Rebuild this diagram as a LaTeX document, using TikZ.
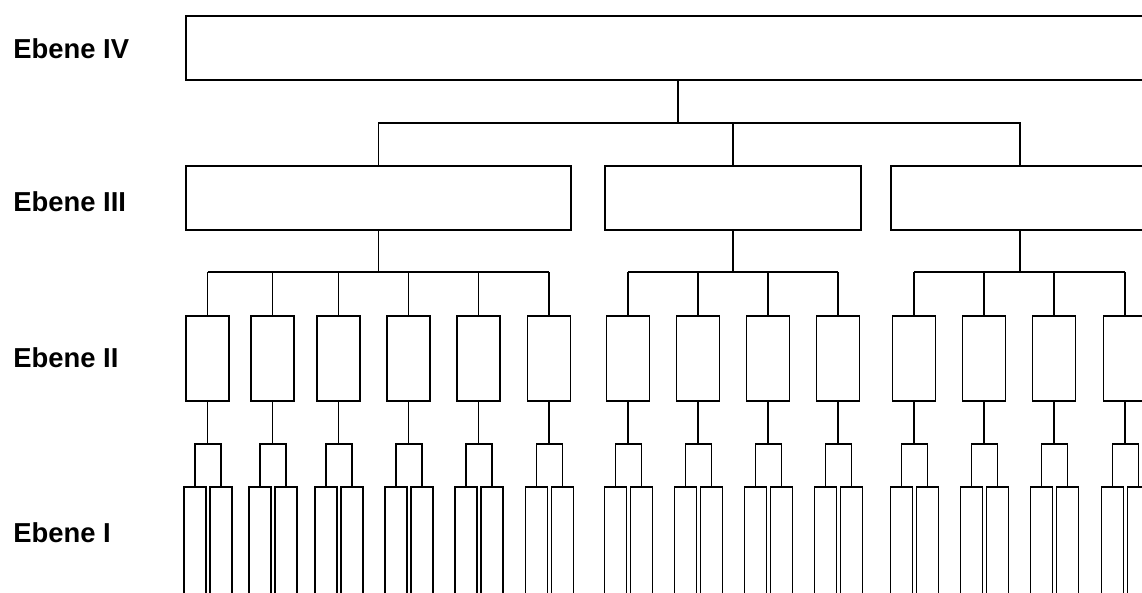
\documentclass[tikz,border=0pt]{standalone}
\usepackage{fontspec}
\setmainfont{Liberation Sans}
\usepackage{tikz}
\usetikzlibrary{positioning}
\tikzset{
    x=0.5pt, y=-0.5pt, % one unit is one pixel of the sketch
    box/.style={draw, line width=0.85pt, inner sep=0pt, minimum height=32pt}, % the boxes of every level
    leaf/.style={box, minimum width=11pt, minimum height=66.5pt}, % the narrow boxes of level I
    mid/.style={box, minimum width=21.5pt, minimum height=42.5pt}, % the boxes of level II
    link/.style={line width=0.85pt}, % the connecting lines
    level/.style={anchor=base west, inner sep=0pt, font=\fontsize{13.7pt}{16pt}\selectfont\bfseries}, % the labels
}
\begin{document}
\begin{tikzpicture}
    \clip (0,0) rectangle (1142,593);
    % labels on the left
    \node[level] (l4) at (13,59) {Ebene IV};
    \node[level] (l3) at (13,212) {Ebene III};
    \node[level] (l2) at (13,368) {Ebene II};
    \node[level] (l1) at (13,543) {Ebene I};
    % level IV and III
    \node[box, minimum width=492pt] (e4) at (678,48) {};
    \node[box, minimum width=192.5pt] (e3a) at (378.5,198) {};
    \node[box, minimum width=128pt] (e3b) at (733,198) {};
    \node[box, minimum width=129pt] (e3c) at (1020,198) {};
    \coordinate (r4) at (0,123);
    \coordinate (r3) at (0,272);
    \coordinate (r2) at (0,444);
    \draw[link] (e4.south) -- (e4.south |- r4);
    \draw[link] (e3a.north) |- (e3c.north |- r4) -- (e3c.north);
    \draw[link] (e3b.north) -- (e3b.north |- r4);
    % level II and I
    \foreach \i/\xpos in {1/207.5, 2/272.5, 3/338.5, 4/408.5, 5/478.5, 6/549,
                          7/628, 8/698, 9/768, 10/838,
                          11/914, 12/984, 13/1054, 14/1125} {
        \node[mid] (e2-\i) at (\xpos,358.5) {};
        \node[leaf] (e1a-\i) at (\xpos-12.5,553.5) {};
        \node[leaf] (e1b-\i) at (\xpos+13.5,553.5) {};
        \draw[link] (e2-\i.north) -- (e2-\i.north |- r3);
        \draw[link] (e2-\i.south) -- (e2-\i.south |- r2);
        \draw[link] (e1a-\i.north) |- (e1b-\i.north |- r2) -- (e1b-\i.north);
    }
    \draw[link] (e3a.south) -- (e3a.south |- r3);
    \draw[link] (e3b.south) -- (e3b.south |- r3);
    \draw[link] (e3c.south) -- (e3c.south |- r3);
    \draw[link] (e2-1.north |- r3) -- (e2-6.north |- r3);
    \draw[link] (e2-7.north |- r3) -- (e2-10.north |- r3);
    \draw[link] (e2-11.north |- r3) -- (e2-14.north |- r3);
\end{tikzpicture}
\end{document}
